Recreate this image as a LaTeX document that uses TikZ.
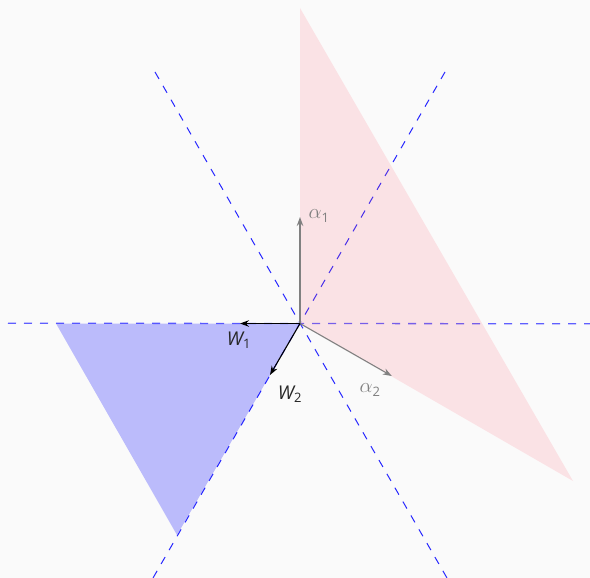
\documentclass[tikz,border=0pt]{standalone}
\usepackage{fontspec}
\setmainfont{Open Sans}
\usetikzlibrary{arrows.meta}
\definecolor{bg}{HTML}{FAFAFA}
\definecolor{agray}{HTML}{808080}
\definecolor{wallblue}{RGB}{40,40,255}
\definecolor{hwallblue}{RGB}{95,95,255}
\definecolor{rootpink}{RGB}{255,90,110}
\tikzset{
  axis/.style={wallblue, line width=1pt, dash pattern=on 8pt off 8pt},
  rootarrow/.style={agray, line width=1.1pt, -{Stealth[length=9pt,width=6.5pt]}},
  wtarrow/.style={black, line width=1.1pt, -{Stealth[length=9pt,width=6.5pt]}},
  rootlbl/.style={text=agray, font=\fontsize{20}{20}\selectfont, inner sep=0pt},
  wtlbl/.style={text=black!85, font=\fontsize{19}{19}\selectfont\itshape, inner sep=0pt},
  pinkfill/.style={fill=rootpink, fill opacity=0.15},
  bluefill/.style={fill=blue, fill opacity=0.25}
}
\begin{document}
\begin{tikzpicture}[x=1pt, y=-1pt]
\fill[bg] (0,0) rectangle (590,578);
\useasboundingbox (0,0) rectangle (590,578);
\coordinate (O) at (300,323.5);
% dashed walls
\coordinate (h1) at (8,323.2);
\coordinate (h2) at (590,323.8);
\coordinate (d1a) at (155,72);
\coordinate (d1b) at (447,578);
\coordinate (d2a) at (445,72);
\coordinate (d2b) at (153,578);
\draw[axis, hwallblue, line width=1.3pt] (h1) -- (h2);
\draw[axis] (d1a) -- (d1b);
\draw[axis] (d2a) -- (d2b);
% triangles
\coordinate (P1) at (300,8);
\coordinate (P2) at (573,481);
\coordinate (B1) at (56,323.5);
\coordinate (B2) at (177,535);
\fill[pinkfill] (O) -- (P1) -- (P2) -- cycle;
\fill[bluefill] (O) -- (B1) -- (B2) -- cycle;
% arrows
\coordinate (a1) at (300,217);
\coordinate (a2) at (391.8,376);
\coordinate (w1) at (240,323.5);
\coordinate (w2) at (270,375);
\draw[rootarrow] (O) -- (a1);
\draw[rootarrow] (O) -- (a2);
\draw[wtarrow] (O) -- (w1);
\draw[wtarrow] (O) -- (w2);
% labels
\node[rootlbl] (la1) at (319,216) {$\alpha$\textsubscript{\fontsize{13}{13}\selectfont 1}};
\node[rootlbl] (la2) at (370,390) {$\alpha$\textsubscript{\fontsize{13}{13}\selectfont 2}};
\node[wtlbl] (lw1) at (239,340) {W\textsubscript{\fontsize{13}{13}\selectfont\upshape 1}};
\node[wtlbl] (lw2) at (290,394) {W\textsubscript{\fontsize{13}{13}\selectfont\upshape 2}};
\end{tikzpicture}
\end{document}
